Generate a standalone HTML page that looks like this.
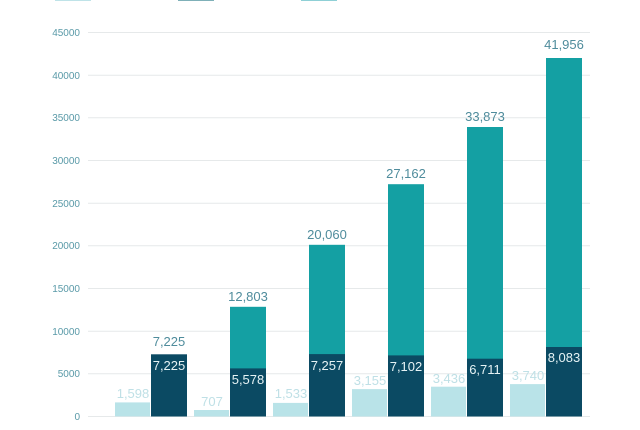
<!DOCTYPE html>
<html><head><meta charset="utf-8"><style>
html,body{margin:0;padding:0;background:#fff;width:640px;height:430px;overflow:hidden}
svg{display:block;font-family:"Liberation Sans",sans-serif}
</style></head><body>
<svg width="640" height="430" viewBox="0 0 640 430">
<rect x="55" y="-2" width="36" height="3" fill="#bfe3e8"/>
<rect x="178" y="-2" width="36" height="3" fill="#7fb0b8"/>
<rect x="301" y="-2" width="36" height="3" fill="#8fd0d6"/>
<g stroke="#e6e9ea" stroke-width="1">
<line x1="88" x2="590" y1="416.5" y2="416.5"/>
<line x1="88" x2="590" y1="373.8" y2="373.8"/>
<line x1="88" x2="590" y1="331.2" y2="331.2"/>
<line x1="88" x2="590" y1="288.5" y2="288.5"/>
<line x1="88" x2="590" y1="245.8" y2="245.8"/>
<line x1="88" x2="590" y1="203.2" y2="203.2"/>
<line x1="88" x2="590" y1="160.5" y2="160.5"/>
<line x1="88" x2="590" y1="117.8" y2="117.8"/>
<line x1="88" x2="590" y1="75.2" y2="75.2"/>
<line x1="88" x2="590" y1="32.5" y2="32.5"/>
</g>
<g fill="#5a9aa8" font-size="10" text-anchor="end">
<text x="80" y="420">0</text>
<text x="80" y="377">5000</text>
<text x="80" y="335">10000</text>
<text x="80" y="292">15000</text>
<text x="80" y="249">20000</text>
<text x="80" y="207">25000</text>
<text x="80" y="164">30000</text>
<text x="80" y="121">35000</text>
<text x="80" y="79">40000</text>
<text x="80" y="36">45000</text>
</g>
<!-- light bars -->
<g fill="#b9e3e8">
<rect x="115" y="402.4" width="35" height="14"/>
<rect x="194" y="410" width="35" height="6.5"/>
<rect x="273" y="402.9" width="35" height="13.6"/>
<rect x="352" y="389.1" width="35" height="27.4"/>
<rect x="431" y="386.7" width="35" height="29.8"/>
<rect x="510" y="384.1" width="35" height="32.4"/>
</g>
<!-- teal -->
<g fill="#14a0a3">
<rect x="230" y="306.8" width="36" height="62"/>
<rect x="309" y="244.8" width="36" height="110"/>
<rect x="388" y="184.2" width="36" height="172"/>
<rect x="467" y="127" width="36" height="232"/>
<rect x="546" y="58" width="36" height="290"/>
</g>
<g fill="#0b4a63">
<rect x="151" y="354.3" width="36" height="62.2"/>
<rect x="230" y="368.4" width="36" height="48.1"/>
<rect x="309" y="354.1" width="36" height="62.4"/>
<rect x="388" y="355.4" width="36" height="61.1"/>
<rect x="467" y="358.7" width="36" height="57.8"/>
<rect x="546" y="347" width="36" height="69.5"/>
</g>
<g fill="#bfe0e6" font-size="13" text-anchor="middle">
<text x="133" y="398">1,598</text>
<text x="212" y="406">707</text>
<text x="291" y="398">1,533</text>
<text x="370" y="385">3,155</text>
<text x="449" y="383">3,436</text>
<text x="528" y="380">3,740</text>
</g>
<g fill="#4f8c9c" font-size="13" text-anchor="middle">
<text x="169" y="346">7,225</text>
<text x="248" y="301">12,803</text>
<text x="327" y="239">20,060</text>
<text x="406" y="178">27,162</text>
<text x="485" y="121">33,873</text>
<text x="564" y="49">41,956</text>
</g>
<g fill="#e6f3f5" font-size="13" text-anchor="middle">
<text x="169" y="370">7,225</text>
<text x="248" y="384">5,578</text>
<text x="327" y="370">7,257</text>
<text x="406" y="371">7,102</text>
<text x="485" y="374">6,711</text>
<text x="564" y="362">8,083</text>
</g>
</svg>
</body></html>
